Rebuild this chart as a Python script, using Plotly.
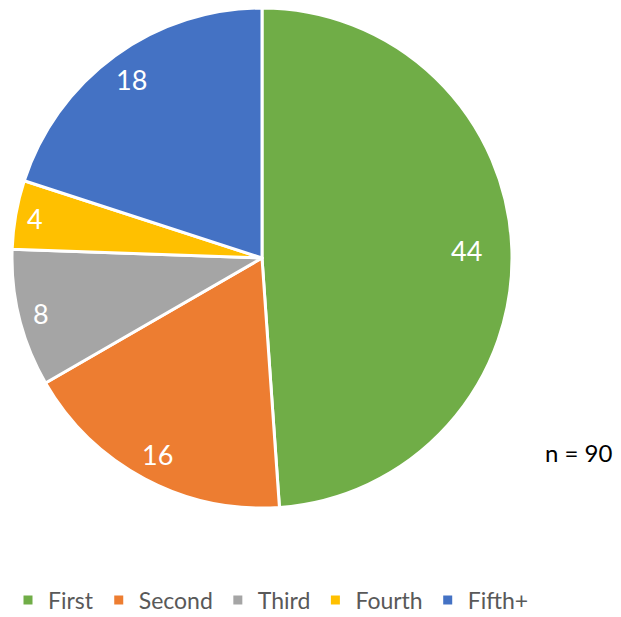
import math
import plotly.graph_objects as go

categories = ["First", "Second", "Third", "Fourth", "Fifth+"]
values = [44, 16, 8, 4, 18]
colors = ["#70AD47", "#ED7D31", "#A5A5A5", "#FFC000", "#4472C4"]
note = "n = 90"

# the page puts the figure at an 8px body margin; size so it ends at the window edge
OFF = 8
W, H = 621 - OFF, 617 - OFF

def fx(px):  # reference screen x -> paper x
    return (px - OFF) / W

def fy(py):  # reference screen y -> paper y
    return 1 - (py - OFF) / H

# pie extent in reference screen pixels
px0, px1 = 12, 512
py0, py1 = 8, 508
dom_x = [fx(px0), fx(px1)]
dom_y = [max(0, fy(py1)), min(1, fy(py0))]
cx, cy = (px0 + px1) / 2, (py0 + py1) / 2
R = min(px1 - px0, py1 - py0) / 2

fig = go.Figure()
fig.add_trace(go.Pie(
    labels=categories,
    values=values,
    sort=False,
    direction="clockwise",
    rotation=0,
    marker=dict(colors=colors, line=dict(color="white", width=3)),
    textinfo="none",
    hoverinfo="label+value",
    domain=dict(x=dom_x, y=dom_y),
    showlegend=True,
))

# data labels placed along each slice's mid angle (smaller slices sit nearer the rim)
total = sum(values)
cum = 0
for v in values:
    mid = cum + v / 2
    cum += v
    ang = math.radians(90 - 360 * mid / total)
    rf = 0.93 - 0.0025 * v
    x_px = cx + rf * R * math.cos(ang)
    y_px = cy - rf * R * math.sin(ang)
    fig.add_annotation(
        x=fx(x_px), y=fy(y_px), xref="paper", yref="paper",
        text=str(v), showarrow=False,
        font=dict(family="Lato", size=27, color="white"),
        xanchor="center", yanchor="middle",
    )

fig.add_annotation(
    x=fx(615), y=fy(452), xref="paper", yref="paper",
    text=note, showarrow=False,
    font=dict(family="Lato", size=24, color="black"),
    xanchor="right", yanchor="middle",
)

fig.update_layout(
    width=W, height=H,
    margin=dict(l=0, r=0, t=0, b=0, autoexpand=False),
    paper_bgcolor="white",
    plot_bgcolor="white",
    font=dict(family="Lato", size=23, color="#595959"),
    legend=dict(
        orientation="h",
        x=0, xanchor="left",
        y=fy(600), yanchor="middle",
        font=dict(family="Lato", size=23, color="#595959"),
        bgcolor="rgba(0,0,0,0)",
    ),
)

fig.write_html("out.html")
